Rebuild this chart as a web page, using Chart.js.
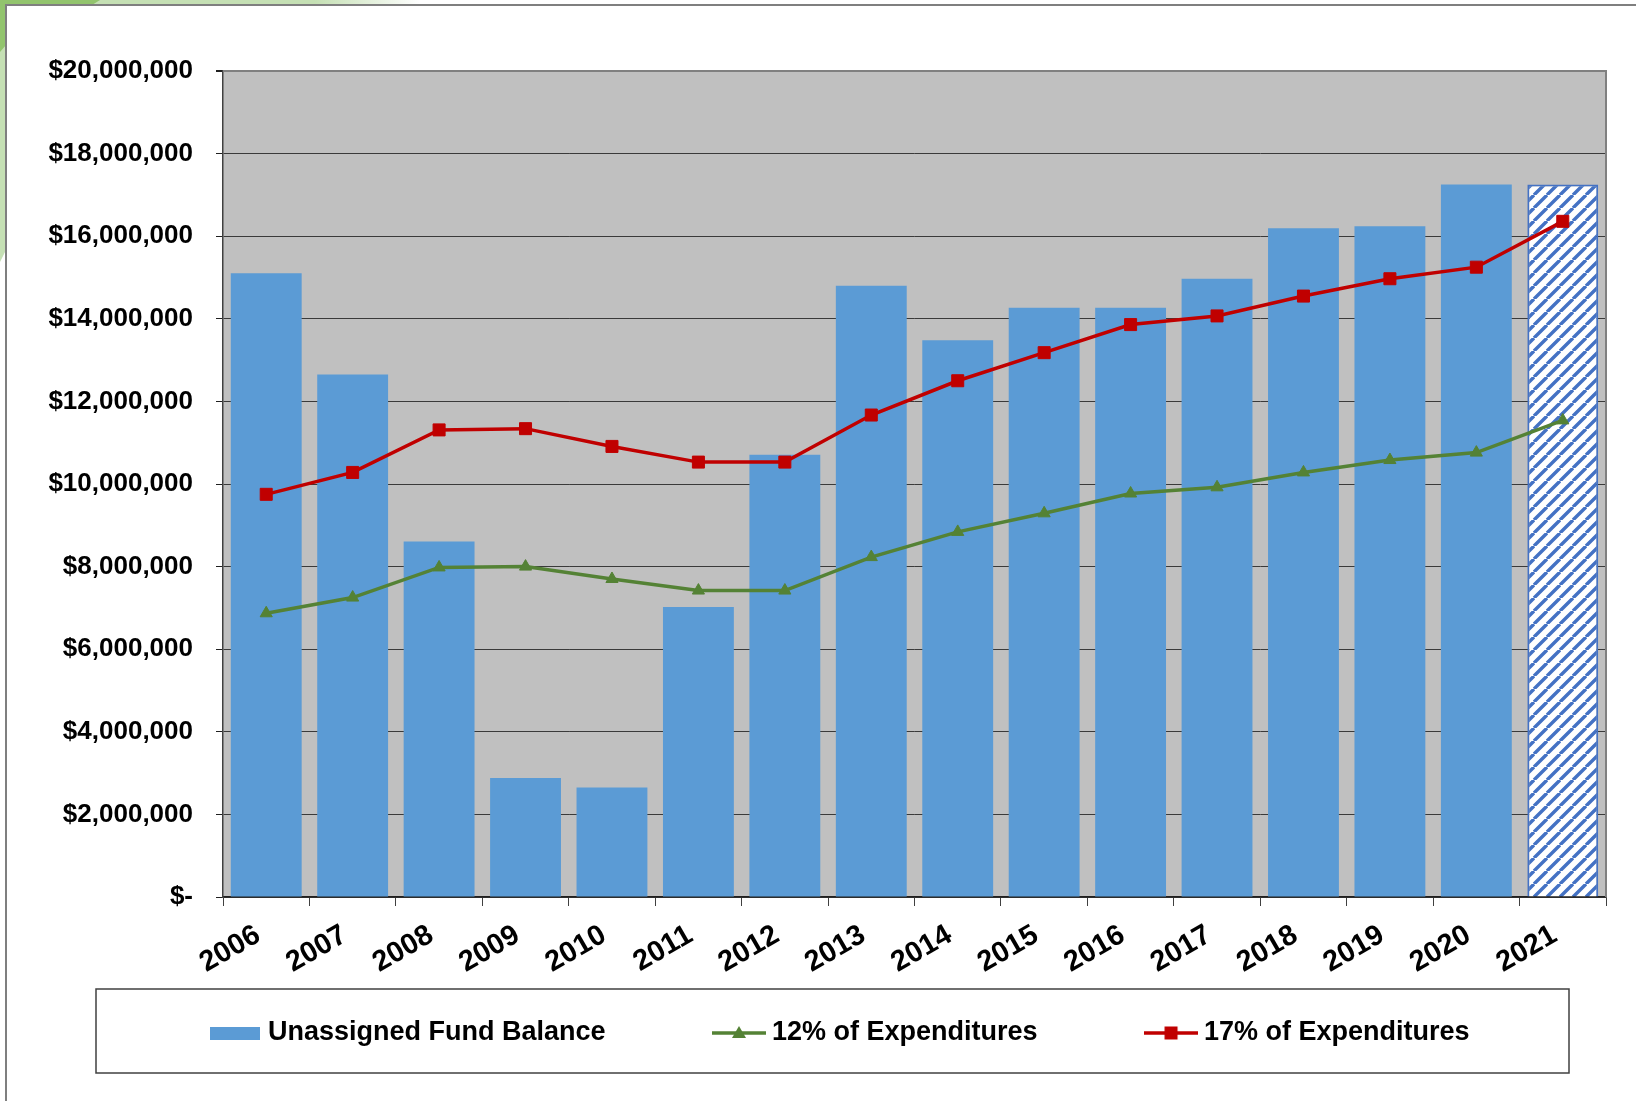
<!DOCTYPE html>
<html>
<head>
<meta charset="utf-8">
<title>Unassigned Fund Balance</title>
<script src="https://cdn.jsdelivr.net/npm/chart.js@4/dist/chart.umd.min.js"></script>
<style>
  html, body { margin: 0; padding: 0; background: #fff; }
  #wrap { width: 1636px; height: 1101px; }
</style>
</head>
<body>
<div id="wrap"><canvas id="fundChart" width="1636" height="1101"></canvas></div>
<script>
// ---- data ----
const years = ["2006", "2007", "2008", "2009", "2010", "2011", "2012", "2013",
               "2014", "2015", "2016", "2017", "2018", "2019", "2020", "2021"];
const projectedYear = "2021";

const fundBalance = [15100000, 12650000, 8610000, 2880000, 2650000, 7020000, 10710000, 14800000,
                     13480000, 14270000, 14270000, 14970000, 16190000, 16240000, 17250000, 17250000];
const expend12 = [6870000, 7250000, 7980000, 8000000, 7700000, 7420000, 7420000, 8230000,
                  8840000, 9290000, 9770000, 9920000, 10280000, 10580000, 10760000, 11540000];
const expend17 = [9750000, 10280000, 11310000, 11340000, 10910000, 10530000, 10530000, 11670000,
                  12500000, 13180000, 13860000, 14070000, 14550000, 14970000, 15250000, 16360000];

const yMin = 0;
const yMax = 20000000;
const yStep = 2000000;

const BLUE = "#5B9BD5";
const HATCH_BLUE = "#4472C4";
const GREEN = "#548235";
const RED = "#C00000";

Chart.defaults.font.family = "'Liberation Sans', Arial, sans-serif";
Chart.defaults.font.weight = "bold";
Chart.defaults.color = "#000";

const canvas = document.getElementById("fundChart");
const ctx = canvas.getContext("2d");

// diagonal hatch for the projected year
function makeHatch() {
    const s = 13;
    const tile = document.createElement("canvas");
    tile.width = s; tile.height = s;
    const g = tile.getContext("2d");
    g.fillStyle = "#fff";
    g.fillRect(0, 0, s, s);
    g.strokeStyle = HATCH_BLUE;
    g.lineWidth = 3.4;
    g.beginPath();
    [-s, 0, s].forEach(function (k) { g.moveTo(k, s); g.lineTo(k + s, 0); });
    g.stroke();
    return ctx.createPattern(tile, "repeat");
}
const hatch = makeHatch();

// legend icons (line + marker like the spreadsheet legend)
function icon(w, h, draw) {
    const c = document.createElement("canvas");
    c.width = w; c.height = h;
    draw(c.getContext("2d"), w, h);
    return c;
}
const legendIcons = [
    icon(50, 13, function (g, w, h) { g.fillStyle = BLUE; g.fillRect(0, 0, w, h); }),
    icon(54, 16, function (g, w, h) {
        g.strokeStyle = GREEN; g.lineWidth = 3.5;
        g.beginPath(); g.moveTo(0, h / 2); g.lineTo(w, h / 2); g.stroke();
        g.fillStyle = GREEN;
        g.beginPath(); g.moveTo(w / 2, 1); g.lineTo(w / 2 + 7, h / 2 + 5); g.lineTo(w / 2 - 7, h / 2 + 5); g.closePath(); g.fill();
    }),
    icon(54, 16, function (g, w, h) {
        g.strokeStyle = RED; g.lineWidth = 3.5;
        g.beginPath(); g.moveTo(0, h / 2); g.lineTo(w, h / 2); g.stroke();
        g.fillStyle = RED;
        g.fillRect(w / 2 - 6.5, h / 2 - 6.5, 13, 13);
    })
];

// page frame, green corner, plot background
const framePlugin = {
    id: "frame",
    beforeDraw(chart) {
        const c = chart.ctx;
        const a = chart.chartArea;
        c.save();
        c.fillStyle = "#fff";
        c.fillRect(0, 0, chart.width, chart.height);

        const fade = c.createLinearGradient(0, 0, 420, 0);
        fade.addColorStop(0, "#C5E0B4");
        fade.addColorStop(0.75, "#C5E0B4");
        fade.addColorStop(1, "#ffffff");
        c.fillStyle = fade;
        c.beginPath();
        c.moveTo(0, 0); c.lineTo(420, 0); c.lineTo(420, 5); c.lineTo(6, 5);
        c.lineTo(6, 250); c.lineTo(0, 262); c.closePath(); c.fill();

        c.fillStyle = "#92C46D";
        c.beginPath();
        c.moveTo(0, 0); c.lineTo(100, 0); c.lineTo(92, 5); c.lineTo(6, 5);
        c.lineTo(6, 45); c.lineTo(0, 52); c.closePath(); c.fill();

        c.strokeStyle = "#7F7F7F";
        c.lineWidth = 2;
        c.beginPath();
        c.moveTo(6, chart.height); c.lineTo(6, 5); c.lineTo(chart.width, 5);
        c.stroke();

        c.fillStyle = "#C0C0C0";
        c.fillRect(a.left, a.top, a.right - a.left, a.bottom - a.top);
        c.restore();

        // legend text sits in the middle of its framed box
        const lg = chart.legend;
        lg.left = 79;
        lg.top = 1033 - 13.5 - lg.options.labels.padding;
    },
    beforeDatasetsDraw(chart) {
        const c = chart.ctx;
        const a = chart.chartArea;
        c.save();
        c.strokeStyle = "#808080";
        c.lineWidth = 2;
        c.beginPath();
        c.moveTo(a.left, a.top); c.lineTo(a.right, a.top); c.lineTo(a.right, a.bottom);
        c.stroke();
        c.restore();
    },
    afterDraw(chart) {
        const c = chart.ctx;
        c.save();
        c.strokeStyle = "#404040";
        c.lineWidth = 1.5;
        c.strokeRect(96, 989, 1473, 84);
        c.restore();
    }
};

new Chart(ctx, {
    type: "bar",
    data: {
        labels: years,
        datasets: [{
            label: "Unassigned Fund Balance",
            data: fundBalance,
            order: 3,
            backgroundColor: function (c) { return years[c.dataIndex] === projectedYear ? hatch : BLUE; },
            borderColor: HATCH_BLUE,
            borderWidth: function (c) { return years[c.dataIndex] === projectedYear ? 2 : 0; },
            categoryPercentage: 1,
            barPercentage: 0.82
        }, {
            type: "line",
            label: "12% of Expenditures",
            data: expend12,
            order: 2,
            borderColor: GREEN,
            backgroundColor: GREEN,
            borderWidth: 3.5,
            tension: 0,
            pointStyle: "triangle",
            pointRadius: 7,
            pointBorderWidth: 1
        }, {
            type: "line",
            label: "17% of Expenditures",
            data: expend17,
            order: 1,
            borderColor: RED,
            backgroundColor: RED,
            borderWidth: 3.5,
            tension: 0,
            pointStyle: "rect",
            pointRadius: 8.5,
            pointBorderWidth: 1
        }]
    },
    options: {
        responsive: false,
        animation: false,
        devicePixelRatio: 1,
        layout: { padding: { top: 71, left: 30, right: 30, bottom: 20 } },
        plugins: {
            tooltip: { enabled: false },
            legend: {
                position: "bottom",
                maxHeight: 60,
                labels: {
                    usePointStyle: true,
                    pointStyleWidth: 39,
                    padding: 114,
                    color: "#000",
                    font: { size: 27, weight: "bold" },
                    sort: function (a, b) { return a.datasetIndex - b.datasetIndex; },
                    generateLabels: function (chart) {
                        const items = Chart.defaults.plugins.legend.labels.generateLabels(chart);
                        items.forEach(function (it) { it.pointStyle = legendIcons[it.datasetIndex]; });
                        return items;
                    }
                }
            }
        },
        scales: {
            x: {
                afterFit: function (scale) { scale.height = 124; },
                grid: {
                    offset: true,
                    drawOnChartArea: false,
                    tickLength: 9,
                    tickColor: "#404040"
                },
                border: { color: "#202020", width: 1.5 },
                ticks: {
                    maxRotation: 30,
                    minRotation: 30,
                    padding: 12,
                    labelOffset: -8,
                    color: "#000",
                    font: { size: 29, weight: "bold" }
                }
            },
            y: {
                min: yMin,
                max: yMax,
                afterFit: function (scale) { scale.width = 193; },
                grid: {
                    color: function (c) { return c.tick && c.tick.value === yMax ? "#808080" : "#3A3A3A"; },
                    lineWidth: function (c) { return c.tick && c.tick.value === yMax ? 2 : 1; },
                    tickLength: 7,
                    tickColor: "#202020"
                },
                border: { color: "#404040", width: 1.5 },
                ticks: {
                    stepSize: yStep,
                    padding: 23,
                    color: "#000",
                    font: { size: 26, weight: "bold" },
                    callback: function (v) { return v === 0 ? "$-" : "$" + Number(v).toLocaleString("en-US"); }
                }
            }
        }
    },
    plugins: [framePlugin]
});
</script>
</body>
</html>
